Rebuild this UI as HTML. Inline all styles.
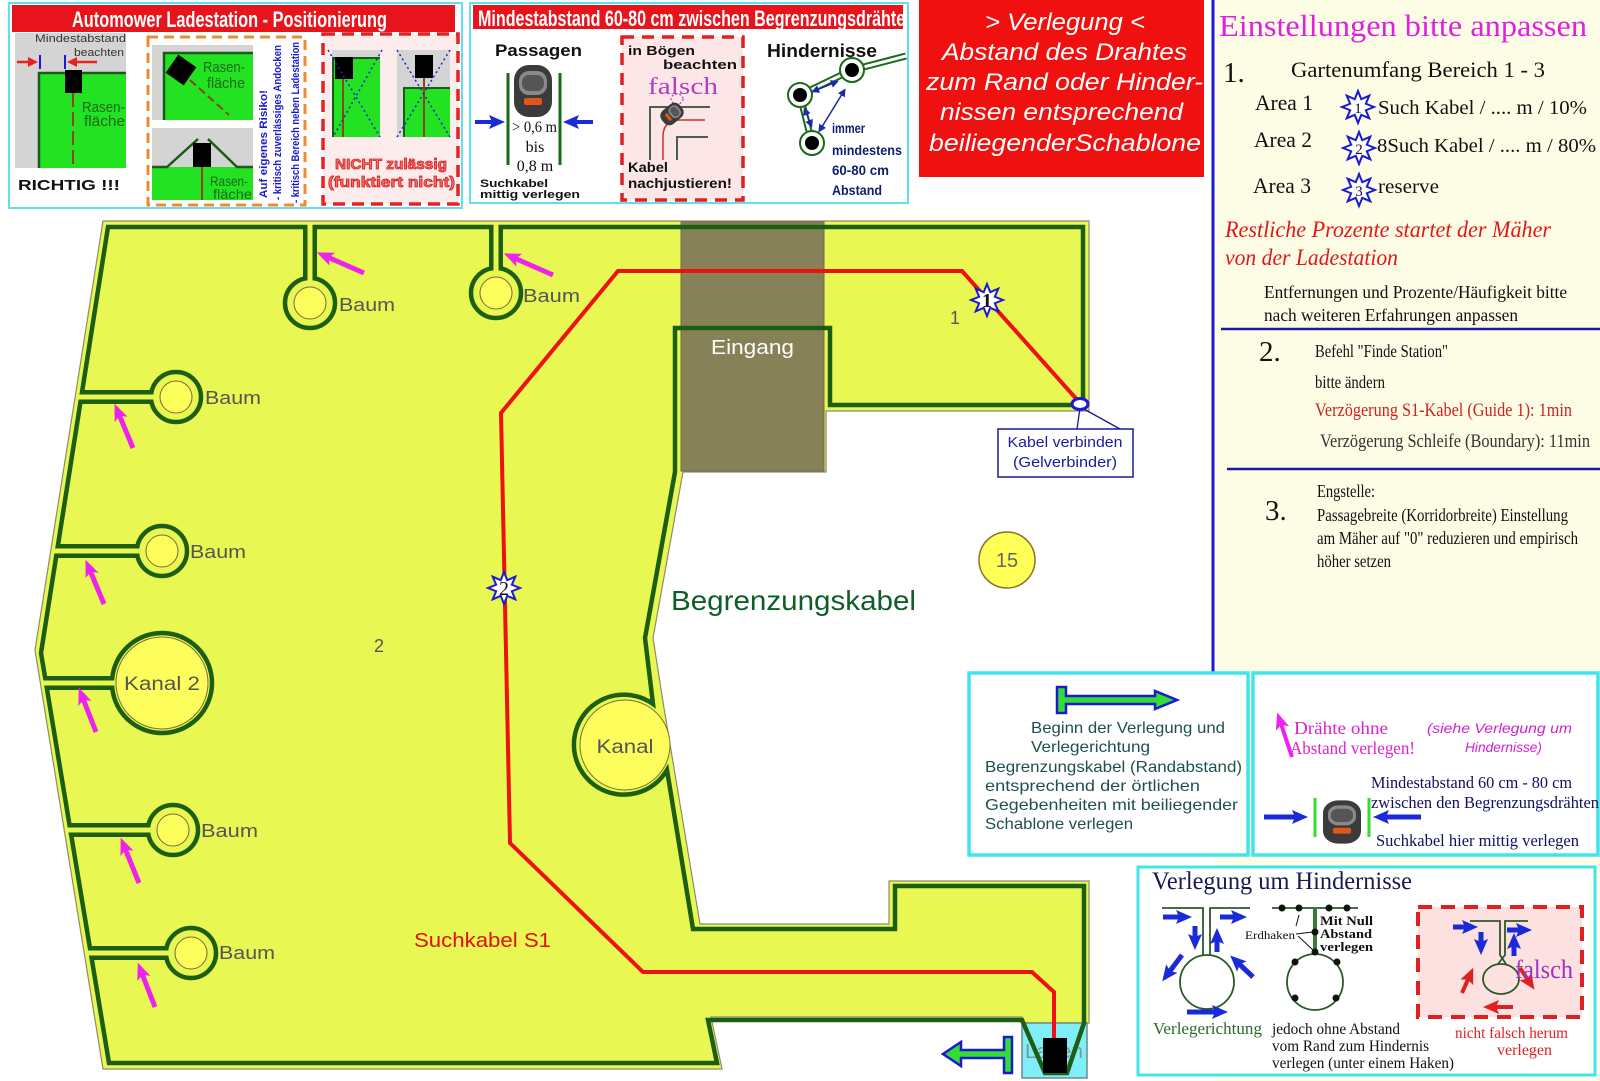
<!DOCTYPE html>
<html><head><meta charset="utf-8">
<style>
html,body{margin:0;padding:0;background:#fff;}
svg{display:block;}
text{font-family:"Liberation Sans","DejaVu Sans",sans-serif;}
.sf{font-family:"Liberation Serif","DejaVu Serif",serif;}
</style></head><body>
<svg width="1600" height="1081" viewBox="0 0 1600 1081" xmlns="http://www.w3.org/2000/svg">
<defs>
 <marker id="mM" markerUnits="userSpaceOnUse" markerWidth="18" markerHeight="16" refX="8" refY="8" orient="auto"><path d="M0,1 L17,8 L0,15 L4,8 Z" fill="#ee22ee"/></marker>
 <marker id="mB" markerUnits="userSpaceOnUse" markerWidth="16" markerHeight="16" refX="8" refY="8" orient="auto"><path d="M0,1 L16,8 L0,15 L3,8 Z" fill="#1a2ad8"/></marker>
 <marker id="mR" markerUnits="userSpaceOnUse" markerWidth="16" markerHeight="16" refX="8" refY="8" orient="auto"><path d="M0,1 L16,8 L0,15 L3,8 Z" fill="#e02020"/></marker>
 <marker id="mS" markerUnits="userSpaceOnUse" markerWidth="8" markerHeight="8" refX="5" refY="4" orient="auto-start-reverse"><path d="M0,0 L8,4 L0,8 Z" fill="#1a2aa0"/></marker>
 <marker id="mr" markerUnits="userSpaceOnUse" markerWidth="10" markerHeight="10" refX="3" refY="5" orient="auto"><path d="M0,0 L10,5 L0,10 Z" fill="#e82020"/></marker>
 <clipPath id="h2"><rect x="473" y="5" width="430" height="24"/></clipPath>
 <g id="star"><polygon points="0,-16 3.25,-7.85 11.3,-11.3 7.85,-3.25 16,0 7.85,3.25 11.3,11.3 3.25,7.85 0,16 -3.25,7.85 -11.3,11.3 -7.85,3.25 -16,0 -7.85,-3.25 -11.3,-11.3 -3.25,-7.85" fill="#fff" stroke="#1a1ad0" stroke-width="2"/></g>
 <g id="mower">
  <rect x="-19" y="-26" width="38" height="52" rx="15" fill="#3b3b3b"/>
  <rect x="-14" y="-20" width="28" height="24" rx="10" fill="#8a8a8a"/>
  <rect x="-11" y="-16" width="22" height="16" rx="7" fill="#555"/>
  <rect x="-9" y="7" width="18" height="7" rx="2" fill="#e2561a"/>
 </g>
</defs>

<!-- right cream panel -->
<rect x="1215" y="0" width="385" height="1081" fill="#fdfde6"/>
<line x1="1213" y1="0" x2="1213" y2="673" stroke="#1a1ad4" stroke-width="3"/>
<line x1="1221" y1="329" x2="1600" y2="329" stroke="#1a1aa0" stroke-width="2.5"/>
<line x1="1227" y1="469" x2="1600" y2="469" stroke="#1a1aa0" stroke-width="2.5"/>

<!-- ===== Panel 1 ===== -->
<rect x="9" y="3" width="453" height="205" fill="#fff" stroke="#5fe0ea" stroke-width="2"/>
<rect x="12" y="5" width="443" height="27" fill="#e8141c"/>
<text x="72" y="27" font-size="22" font-weight="bold" fill="#fff" textLength="315" lengthAdjust="spacingAndGlyphs">Automower Ladestation - Positionierung</text>
<rect x="15" y="33" width="111" height="135" fill="#d4d4d4"/>
<rect x="38" y="72" width="88" height="96" fill="#22e222"/>
<path d="M39,168 V73 H126" fill="none" stroke="#1a5a1a" stroke-width="2.5"/>
<line x1="73" y1="93" x2="73" y2="168" stroke="#8b4513" stroke-width="2" stroke-dasharray="14 5"/>
<rect x="65" y="70" width="17" height="23" fill="#000"/>
<text x="35" y="42" font-size="11" fill="#333" textLength="91" lengthAdjust="spacingAndGlyphs">Mindestabstand</text>
<text x="74" y="56" font-size="11" fill="#333" textLength="50" lengthAdjust="spacingAndGlyphs">beachten</text>
<line x1="17" y1="62" x2="31" y2="62" stroke="#e82020" stroke-width="2.5" marker-end="url(#mr)"/>
<line x1="97" y1="62" x2="74" y2="62" stroke="#e82020" stroke-width="2.5" marker-end="url(#mr)"/>
<line x1="40" y1="55" x2="40" y2="69" stroke="#1a1ad0" stroke-width="2"/>
<line x1="65" y1="55" x2="65" y2="69" stroke="#1a1ad0" stroke-width="2"/>
<text x="82" y="112" font-size="15" fill="#1a6a1a" textLength="43" lengthAdjust="spacingAndGlyphs">Rasen-</text>
<text x="84" y="126" font-size="15" fill="#1a6a1a" textLength="41" lengthAdjust="spacingAndGlyphs">fläche</text>
<text x="18" y="190" font-size="15" font-weight="bold" fill="#111" textLength="102" lengthAdjust="spacingAndGlyphs">RICHTIG !!!</text>

<rect x="148" y="37" width="157" height="168" fill="#fff" stroke="#f08a30" stroke-width="3" stroke-dasharray="10 6"/>
<rect x="152" y="45" width="101" height="75" fill="#d4d4d4"/>
<rect x="163" y="52" width="90" height="68" fill="#22e222"/>
<path d="M164,120 V53 H253" fill="none" stroke="#1a5a1a" stroke-width="2.5"/>
<line x1="190" y1="80" x2="229" y2="115" stroke="#8b4513" stroke-width="2" stroke-dasharray="8 4"/>
<rect x="170" y="59" width="22" height="22" fill="#000" transform="rotate(35 181 70)"/>
<text x="203" y="72" font-size="15" fill="#1a6a1a" textLength="42" lengthAdjust="spacingAndGlyphs">Rasen-</text>
<text x="207" y="88" font-size="15" fill="#1a6a1a" textLength="38" lengthAdjust="spacingAndGlyphs">fläche</text>
<rect x="152" y="128" width="101" height="72" fill="#d4d4d4"/>
<rect x="152" y="167" width="101" height="33" fill="#22e222"/>
<path d="M152,167 H167 L198,139 M208,139 L237,167 H253" fill="none" stroke="#1a5a1a" stroke-width="2.5"/>
<line x1="202" y1="167" x2="202" y2="200" stroke="#8b4513" stroke-width="2"/>
<rect x="193" y="143" width="18" height="24" fill="#000"/>
<text x="210" y="186" font-size="14" fill="#1a6a1a" textLength="38" lengthAdjust="spacingAndGlyphs">Rasen-</text>
<text x="213" y="199" font-size="14" fill="#1a6a1a" textLength="39" lengthAdjust="spacingAndGlyphs">fläche</text>
<text transform="translate(267,198) rotate(-90)" font-size="11" font-weight="bold" fill="#1a1acc" textLength="108" lengthAdjust="spacingAndGlyphs">Auf eigenes Risiko!</text>
<text transform="translate(281,200) rotate(-90)" font-size="11" font-weight="bold" fill="#1a1acc" textLength="155" lengthAdjust="spacingAndGlyphs">- kritisch zuverlässiges Andocken</text>
<text transform="translate(299,203) rotate(-90)" font-size="11" font-weight="bold" fill="#1a1acc" textLength="161" lengthAdjust="spacingAndGlyphs">- kritisch Bereich neben Ladestation</text>

<rect x="323" y="34" width="135" height="170" fill="#fdecec" stroke="#e82020" stroke-width="3.5" stroke-dasharray="12 7"/>
<rect x="332" y="50" width="48" height="87" fill="#d4d4d4"/>
<rect x="332" y="57" width="48" height="80" fill="#22e222"/>
<path d="M333,137 V58 H380" fill="none" stroke="#1a5a1a" stroke-width="2"/>
<line x1="343" y1="79" x2="343" y2="137" stroke="#8b4513" stroke-width="2"/>
<rect x="335" y="57" width="18" height="22" fill="#000"/>
<line x1="328" y1="50" x2="380" y2="137" stroke="#2222cc" stroke-width="1.5" stroke-dasharray="2 3"/>
<line x1="382" y1="50" x2="333" y2="137" stroke="#2222cc" stroke-width="1.5" stroke-dasharray="2 3"/>
<rect x="397" y="50" width="53" height="87" fill="#d4d4d4"/>
<rect x="403" y="87" width="47" height="50" fill="#22e222"/>
<path d="M404,137 V88 H450" fill="none" stroke="#1a5a1a" stroke-width="2"/>
<line x1="424" y1="78" x2="424" y2="137" stroke="#8b4513" stroke-width="2"/>
<rect x="415" y="55" width="18" height="23" fill="#000"/>
<line x1="397" y1="50" x2="450" y2="137" stroke="#2222cc" stroke-width="1.5" stroke-dasharray="2 3"/>
<line x1="450" y1="50" x2="397" y2="137" stroke="#2222cc" stroke-width="1.5" stroke-dasharray="2 3"/>
<text x="335" y="169" font-size="15" font-weight="bold" fill="#f07070" stroke="#d82020" stroke-width="0.8" textLength="112" lengthAdjust="spacingAndGlyphs">NICHT zulässig</text>
<text x="328" y="187" font-size="15" font-weight="bold" fill="#f07070" stroke="#d82020" stroke-width="0.8" textLength="127" lengthAdjust="spacingAndGlyphs">(funktiert nicht)</text>

<!-- ===== Panel 2 ===== -->
<rect x="470" y="3" width="438" height="200" fill="#fff" stroke="#5fe0ea" stroke-width="2"/>
<rect x="473" y="5" width="430" height="24" fill="#e8141c"/>
<g clip-path="url(#h2)"><text x="478" y="26" font-size="22" font-weight="bold" fill="#fff" textLength="437" lengthAdjust="spacingAndGlyphs">Mindestabstand 60-80 cm zwischen Begrenzungsdrähten</text></g>
<text x="495" y="56" font-size="17" font-weight="bold" fill="#111" textLength="87" lengthAdjust="spacingAndGlyphs">Passagen</text>
<line x1="508" y1="73" x2="508" y2="165" stroke="#1a6a1a" stroke-width="3"/>
<line x1="560" y1="73" x2="560" y2="165" stroke="#1a6a1a" stroke-width="3"/>
<use href="#mower" transform="translate(533,91)"/>
<line x1="475" y1="122" x2="497" y2="122" stroke="#1a2ad8" stroke-width="4" marker-end="url(#mB)"/>
<line x1="593" y1="122" x2="571" y2="122" stroke="#1a2ad8" stroke-width="4" marker-end="url(#mB)"/>
<text class="sf" x="512" y="132" font-size="16" fill="#111" textLength="45" lengthAdjust="spacingAndGlyphs">&gt; 0,6 m</text>
<text class="sf" x="535" y="152" font-size="16" fill="#111" text-anchor="middle">bis</text>
<text class="sf" x="535" y="171" font-size="16" fill="#111" text-anchor="middle">0,8 m</text>
<text x="480" y="187" font-size="11" font-weight="bold" fill="#111" textLength="68" lengthAdjust="spacingAndGlyphs">Suchkabel</text>
<text x="480" y="198" font-size="11" font-weight="bold" fill="#111" textLength="100" lengthAdjust="spacingAndGlyphs">mittig verlegen</text>

<rect x="622" y="37" width="121" height="163" fill="#fde6e6" stroke="#e02020" stroke-width="3.5" stroke-dasharray="12 8"/>
<text x="628" y="55" font-size="13" font-weight="bold" fill="#111" textLength="67" lengthAdjust="spacingAndGlyphs">in Bögen</text>
<text x="663" y="69" font-size="13" font-weight="bold" fill="#111" textLength="74" lengthAdjust="spacingAndGlyphs">beachten</text>
<text class="sf" x="648" y="94" font-size="24" fill="#b040c0" textLength="70" lengthAdjust="spacingAndGlyphs">falsch</text>
<ellipse cx="677" cy="99" rx="6" ry="5" fill="none" stroke="#a040c0" stroke-width="1.2" stroke-dasharray="2 2"/>
<path d="M710,107 H650 V160" fill="none" stroke="#4f5f4f" stroke-width="2"/>
<path d="M705,120 H680 Q663,120 663,137 V160" fill="none" stroke="#d03030" stroke-width="1.5"/>
<path d="M708,137 H677 V160" fill="none" stroke="#4f5f4f" stroke-width="2"/>
<use href="#mower" transform="translate(672,114) rotate(50) scale(0.45)"/>
<text x="628" y="172" font-size="14" font-weight="bold" fill="#111" textLength="40" lengthAdjust="spacingAndGlyphs">Kabel</text>
<text x="628" y="188" font-size="14" font-weight="bold" fill="#111" textLength="104" lengthAdjust="spacingAndGlyphs">nachjustieren!</text>

<text x="767" y="57" font-size="18" font-weight="bold" fill="#111" textLength="110" lengthAdjust="spacingAndGlyphs">Hindernisse</text>
<g stroke-linecap="butt">
 <line x1="852" y1="70" x2="906" y2="56" stroke="#1a6a1a" stroke-width="7"/>
 <line x1="800" y1="95" x2="852" y2="70" stroke="#1a6a1a" stroke-width="7"/>
 <line x1="800" y1="95" x2="812" y2="143" stroke="#1a6a1a" stroke-width="7"/>
 <line x1="852" y1="70" x2="906" y2="56" stroke="#fff" stroke-width="3"/>
 <line x1="800" y1="95" x2="852" y2="70" stroke="#fff" stroke-width="3"/>
 <line x1="800" y1="95" x2="812" y2="143" stroke="#fff" stroke-width="3"/>
</g>
<circle cx="800" cy="95" r="12" fill="#fff" stroke="#1a6a1a" stroke-width="2"/><circle cx="800" cy="95" r="7" fill="#000"/>
<circle cx="852" cy="70" r="12" fill="#fff" stroke="#1a6a1a" stroke-width="2"/><circle cx="852" cy="70" r="7" fill="#000"/>
<circle cx="812" cy="143" r="12" fill="#fff" stroke="#1a6a1a" stroke-width="2"/><circle cx="812" cy="143" r="7" fill="#000"/>
<line x1="814" y1="91" x2="836" y2="82" stroke="#1a2aa0" stroke-width="1.5" marker-start="url(#mS)" marker-end="url(#mS)"/>
<line x1="805" y1="110" x2="811" y2="125" stroke="#1a2aa0" stroke-width="1.5" marker-start="url(#mS)" marker-end="url(#mS)"/>
<line x1="820" y1="130" x2="844" y2="91" stroke="#1a2aa0" stroke-width="1.5" marker-start="url(#mS)" marker-end="url(#mS)"/>
<text x="832" y="133" font-size="14" font-weight="bold" fill="#102070" textLength="33" lengthAdjust="spacingAndGlyphs">immer</text>
<text x="832" y="155" font-size="14" font-weight="bold" fill="#102070" textLength="70" lengthAdjust="spacingAndGlyphs">mindestens</text>
<text x="832" y="175" font-size="14" font-weight="bold" fill="#102070" textLength="57" lengthAdjust="spacingAndGlyphs">60-80 cm</text>
<text x="832" y="195" font-size="14" font-weight="bold" fill="#102070" textLength="50" lengthAdjust="spacingAndGlyphs">Abstand</text>

<!-- ===== Red Verlegung box ===== -->
<rect x="919" y="0" width="285" height="177" fill="#f01010"/>
<g font-style="italic" font-size="24" fill="#fff">
 <text x="985" y="30" textLength="160" lengthAdjust="spacingAndGlyphs">&gt; Verlegung &lt;</text>
 <text x="942" y="60" textLength="245" lengthAdjust="spacingAndGlyphs">Abstand des Drahtes</text>
 <text x="926" y="90" textLength="277" lengthAdjust="spacingAndGlyphs">zum Rand oder Hinder-</text>
 <text x="940" y="120" textLength="243" lengthAdjust="spacingAndGlyphs">nissen entsprechend</text>
 <text x="929" y="151" textLength="272" lengthAdjust="spacingAndGlyphs">beiliegenderSchablone</text>
</g>

<!-- ===== Right panel text ===== -->
<g class="sf">
<text class="sf" x="1219" y="36" font-size="31" fill="#e020e0" textLength="368" lengthAdjust="spacingAndGlyphs">Einstellungen bitte anpassen</text>
<text class="sf" x="1223" y="82" font-size="29" fill="#111">1.</text>
<text class="sf" x="1291" y="77" font-size="22" fill="#111" textLength="254" lengthAdjust="spacingAndGlyphs">Gartenumfang Bereich 1 - 3</text>
<text class="sf" x="1255" y="110" font-size="22" fill="#111" textLength="58" lengthAdjust="spacingAndGlyphs">Area 1</text>
<text class="sf" x="1378" y="114" font-size="20" fill="#111" textLength="209" lengthAdjust="spacingAndGlyphs">Such Kabel / .... m / 10%</text>
<text class="sf" x="1254" y="147" font-size="22" fill="#111" textLength="58" lengthAdjust="spacingAndGlyphs">Area 2</text>
<text class="sf" x="1377" y="152" font-size="20" fill="#111" textLength="219" lengthAdjust="spacingAndGlyphs">8Such Kabel / .... m / 80%</text>
<text class="sf" x="1253" y="193" font-size="22" fill="#111" textLength="58" lengthAdjust="spacingAndGlyphs">Area 3</text>
<text class="sf" x="1378" y="193" font-size="20" fill="#111" textLength="61" lengthAdjust="spacingAndGlyphs">reserve</text>
<text class="sf" x="1225" y="237" font-size="23" font-style="italic" fill="#e01818" textLength="326" lengthAdjust="spacingAndGlyphs">Restliche Prozente  startet der Mäher</text>
<text class="sf" x="1225" y="265" font-size="23" font-style="italic" fill="#e01818" textLength="173" lengthAdjust="spacingAndGlyphs">von der Ladestation</text>
<text class="sf" x="1264" y="298" font-size="18" fill="#111" textLength="303" lengthAdjust="spacingAndGlyphs">Entfernungen und Prozente/Häufigkeit bitte</text>
<text class="sf" x="1264" y="321" font-size="18" fill="#111" textLength="254" lengthAdjust="spacingAndGlyphs">nach weiteren Erfahrungen anpassen</text>
<text class="sf" x="1259" y="361" font-size="29" fill="#111">2.</text>
<text class="sf" x="1315" y="357" font-size="18" fill="#111" textLength="133" lengthAdjust="spacingAndGlyphs">Befehl "Finde Station"</text>
<text class="sf" x="1315" y="388" font-size="18" fill="#111" textLength="70" lengthAdjust="spacingAndGlyphs">bitte ändern</text>
<text class="sf" x="1315" y="416" font-size="19" fill="#d02020" textLength="257" lengthAdjust="spacingAndGlyphs">Verzögerung S1-Kabel (Guide 1): 1min</text>
<text class="sf" x="1320" y="447" font-size="19" fill="#333" textLength="270" lengthAdjust="spacingAndGlyphs">Verzögerung Schleife (Boundary): 11min</text>
<text class="sf" x="1317" y="497" font-size="18" fill="#111" textLength="58" lengthAdjust="spacingAndGlyphs">Engstelle:</text>
<text class="sf" x="1265" y="520" font-size="29" fill="#111">3.</text>
<text class="sf" x="1317" y="521" font-size="18" fill="#111" textLength="251" lengthAdjust="spacingAndGlyphs">Passagebreite (Korridorbreite) Einstellung</text>
<text class="sf" x="1317" y="544" font-size="18" fill="#111" textLength="261" lengthAdjust="spacingAndGlyphs">am Mäher auf "0" reduzieren und empirisch</text>
<text class="sf" x="1317" y="567" font-size="18" fill="#111" textLength="74" lengthAdjust="spacingAndGlyphs">höher setzen</text>
</g>
<use href="#star" transform="translate(1358,107)"/>
<text class="sf" x="1358" y="113" font-size="15" fill="#111" text-anchor="middle">1</text>
<use href="#star" transform="translate(1359,148)"/>
<text class="sf" x="1359" y="154" font-size="15" fill="#111" text-anchor="middle">2</text>
<use href="#star" transform="translate(1359,190)"/>
<text class="sf" x="1359" y="196" font-size="15" fill="#111" text-anchor="middle">3</text>

<!-- ===== Yard ===== -->
<polygon points="103,221 1089,221 1089,411 826,411 826,472 683,472 653,638 663,702 700,924 889,924 889,881 1089,881 1089,1023 1022,1023 1022,1017 711,1017 722,1069 103,1069 35,650" fill="#e9f752" stroke="#8c8c6c" stroke-width="1.2"/>
<rect x="681" y="222" width="143" height="249" fill="#878157" stroke="#6d6a50" stroke-width="1"/>
<rect x="1022" y="1023" width="65" height="55" fill="#80eef6" stroke="#6a8a8a" stroke-width="1.5"/>
<text x="1025" y="1058" font-size="20" fill="#7a9aa0" textLength="58" lengthAdjust="spacingAndGlyphs">Laden</text>

<!-- boundary wire -->
<path d="M1084,1023 L1084,886 L895,886 L895,929 L693,929 L667,770 A50 50 0 1 1 653,704 L645,638 L675,472 L675,328 L830,328 L830,405 L1083,405 L1083,227 L108,227 L41,653 L109,1063 L717,1063 L708,1020 L1022,1020 L1045,1073 L1067,1073 L1084,1023 Z" fill="none" stroke="#1b5e14" stroke-width="4.5" stroke-linejoin="miter"/>

<!-- trees -->
<g stroke-linecap="butt">
 <!-- T1 -->
 <line x1="310" y1="227" x2="310" y2="290" stroke="#1b5e14" stroke-width="14"/>
 <circle cx="310" cy="303" r="25" fill="#e9f752" stroke="#1b5e14" stroke-width="4.5"/>
 <line x1="310" y1="223" x2="310" y2="282" stroke="#e9f752" stroke-width="5"/>
 <circle cx="310" cy="303" r="16" fill="#fdfd5c" stroke="#7a6a3a" stroke-width="1"/>
 <!-- T2 -->
 <line x1="496" y1="227" x2="496" y2="280" stroke="#1b5e14" stroke-width="14"/>
 <circle cx="496" cy="293" r="25" fill="#e9f752" stroke="#1b5e14" stroke-width="4.5"/>
 <line x1="496" y1="223" x2="496" y2="272" stroke="#e9f752" stroke-width="5"/>
 <circle cx="496" cy="293" r="16" fill="#fdfd5c" stroke="#7a6a3a" stroke-width="1"/>
 <!-- T3 -->
 <line x1="81" y1="397" x2="165" y2="397" stroke="#1b5e14" stroke-width="14"/>
 <circle cx="176" cy="397" r="25" fill="#e9f752" stroke="#1b5e14" stroke-width="4.5"/>
 <line x1="76" y1="397" x2="155" y2="397" stroke="#e9f752" stroke-width="5"/>
 <circle cx="176" cy="397" r="16" fill="#fdfd5c" stroke="#7a6a3a" stroke-width="1"/>
 <!-- T4 -->
 <line x1="57" y1="551" x2="150" y2="551" stroke="#1b5e14" stroke-width="14"/>
 <circle cx="162" cy="551" r="25" fill="#e9f752" stroke="#1b5e14" stroke-width="4.5"/>
 <line x1="52" y1="551" x2="141" y2="551" stroke="#e9f752" stroke-width="5"/>
 <circle cx="162" cy="551" r="16" fill="#fdfd5c" stroke="#7a6a3a" stroke-width="1"/>
 <!-- Kanal 2 -->
 <line x1="46" y1="683" x2="125" y2="683" stroke="#1b5e14" stroke-width="14"/>
 <circle cx="162" cy="683" r="50" fill="#e9f752" stroke="#1b5e14" stroke-width="4.5"/>
 <line x1="41" y1="683" x2="117" y2="683" stroke="#e9f752" stroke-width="5"/>
 <circle cx="162" cy="683" r="46" fill="#fdfd5c" stroke="#7a6a3a" stroke-width="1"/>
 <!-- T5 -->
 <line x1="70" y1="830" x2="160" y2="830" stroke="#1b5e14" stroke-width="14"/>
 <circle cx="173" cy="830" r="25" fill="#e9f752" stroke="#1b5e14" stroke-width="4.5"/>
 <line x1="65" y1="830" x2="152" y2="830" stroke="#e9f752" stroke-width="5"/>
 <circle cx="173" cy="830" r="16" fill="#fdfd5c" stroke="#7a6a3a" stroke-width="1"/>
 <!-- T6 -->
 <line x1="90" y1="953" x2="178" y2="953" stroke="#1b5e14" stroke-width="14"/>
 <circle cx="191" cy="953" r="25" fill="#e9f752" stroke="#1b5e14" stroke-width="4.5"/>
 <line x1="85" y1="953" x2="170" y2="953" stroke="#e9f752" stroke-width="5"/>
 <circle cx="191" cy="953" r="16" fill="#fdfd5c" stroke="#7a6a3a" stroke-width="1"/>
</g>
<!-- Kanal -->
<circle cx="625" cy="745" r="45" fill="#fdfd5c" stroke="#7a6a3a" stroke-width="1"/>

<!-- labels -->
<g fill="#555" font-size="18">
 <text x="339" y="311" textLength="56" lengthAdjust="spacingAndGlyphs">Baum</text>
 <text x="523" y="302" textLength="57" lengthAdjust="spacingAndGlyphs">Baum</text>
 <text x="205" y="404" textLength="56" lengthAdjust="spacingAndGlyphs">Baum</text>
 <text x="190" y="558" textLength="56" lengthAdjust="spacingAndGlyphs">Baum</text>
 <text x="201" y="837" textLength="57" lengthAdjust="spacingAndGlyphs">Baum</text>
 <text x="219" y="959" textLength="56" lengthAdjust="spacingAndGlyphs">Baum</text>
 <text x="162" y="690" text-anchor="middle" font-size="19" textLength="76" lengthAdjust="spacingAndGlyphs">Kanal 2</text>
 <text x="625" y="753" text-anchor="middle" font-size="19" textLength="57" lengthAdjust="spacingAndGlyphs">Kanal</text>
 <text x="379" y="652" text-anchor="middle">2</text>
 <text x="955" y="324" text-anchor="middle">1</text>
</g>
<text x="711" y="354" font-size="20" fill="#fff" textLength="83" lengthAdjust="spacingAndGlyphs">Eingang</text>
<text x="671" y="610" font-size="28" fill="#0e5e28" textLength="245" lengthAdjust="spacingAndGlyphs">Begrenzungskabel</text>
<text x="414" y="947" font-size="20" fill="#e01010" textLength="137" lengthAdjust="spacingAndGlyphs">Suchkabel S1</text>
<circle cx="1007" cy="560" r="28" fill="#ffff55" stroke="#8a7030" stroke-width="1.5"/>
<text x="1007" y="567" font-size="20" fill="#666" text-anchor="middle">15</text>

<!-- magenta arrows -->
<g stroke="#ee22ee" stroke-width="5" marker-end="url(#mM)">
 <line x1="364" y1="273" x2="325" y2="256"/>
 <line x1="553" y1="275" x2="512" y2="257"/>
 <line x1="133" y1="448" x2="118" y2="412"/>
 <line x1="104" y1="604" x2="89" y2="568"/>
 <line x1="96" y1="732" x2="82" y2="696"/>
 <line x1="139" y1="883" x2="124" y2="846"/>
 <line x1="155" y1="1007" x2="141" y2="971"/>
</g>

<!-- red search cable -->
<polyline points="1054,1038 1054,992 1032,972 643,972 510,843 501,413 618,271 962,271 1080,403" fill="none" stroke="#ee1111" stroke-width="4" stroke-linejoin="miter"/>
<rect x="1043" y="1038" width="24" height="35" fill="#000"/>
<use href="#star" transform="translate(987,300)"/>
<text class="sf" x="987" y="307" font-size="20" font-weight="bold" fill="#111" text-anchor="middle">1</text>
<use href="#star" transform="translate(504,588)"/>
<text class="sf" x="504" y="595" font-size="20" fill="#111" text-anchor="middle">2</text>

<!-- cable connector -->
<line x1="1080" y1="408" x2="1077" y2="429" stroke="#1a1a9a" stroke-width="1.3"/>
<line x1="1082" y1="408" x2="1120" y2="429" stroke="#1a1a9a" stroke-width="1.3"/>
<ellipse cx="1080" cy="404" rx="8" ry="5.5" fill="#fff" stroke="#1a1ad4" stroke-width="3"/>
<rect x="998" y="429" width="135" height="48" fill="#fff" stroke="#1a1a9a" stroke-width="1.5"/>
<text x="1065" y="447" font-size="15" fill="#1a1aa0" text-anchor="middle" textLength="115" lengthAdjust="spacingAndGlyphs">Kabel verbinden</text>
<text x="1065" y="467" font-size="15" fill="#1a1aa0" text-anchor="middle" textLength="104" lengthAdjust="spacingAndGlyphs">(Gelverbinder)</text>

<!-- start arrow near station -->
<polygon points="1012,1037 1012,1073 1004,1073 1004,1058 961,1058 961,1066 943,1054 961,1042 961,1050 1004,1050 1004,1037" fill="#33dd33" stroke="#1a1ad0" stroke-width="2.5" stroke-linejoin="miter"/>

<!-- ===== Box 1 ===== -->
<rect x="969" y="673" width="279" height="182" fill="#fff" stroke="#40e4ee" stroke-width="3.5"/>
<polygon points="1057,687 1066,687 1066,696 1155,696 1155,691 1177,700 1155,709 1155,704 1066,704 1066,713 1057,713" fill="#33dd33" stroke="#1a1ad0" stroke-width="2.5"/>
<g font-size="16" fill="#1e5050">
 <text x="1031" y="733" textLength="194" lengthAdjust="spacingAndGlyphs">Beginn der Verlegung und</text>
 <text x="1031" y="752" textLength="119" lengthAdjust="spacingAndGlyphs">Verlegerichtung</text>
 <text x="985" y="772" textLength="257" lengthAdjust="spacingAndGlyphs">Begrenzungskabel (Randabstand)</text>
 <text x="985" y="791" textLength="215" lengthAdjust="spacingAndGlyphs">entsprechend der örtlichen</text>
 <text x="985" y="810" textLength="253" lengthAdjust="spacingAndGlyphs">Gegebenheiten mit beiliegender</text>
 <text x="985" y="829" textLength="148" lengthAdjust="spacingAndGlyphs">Schablone verlegen</text>
</g>

<!-- ===== Box 2 ===== -->
<rect x="1253" y="673" width="345" height="182" fill="#fff" stroke="#40e4ee" stroke-width="3.5"/>
<line x1="1292" y1="757" x2="1280" y2="721" stroke="#ee22ee" stroke-width="4" marker-end="url(#mM)"/>
<text class="sf" x="1294" y="734" font-size="18" fill="#e020d0" textLength="94" lengthAdjust="spacingAndGlyphs">Drähte ohne</text>
<text class="sf" x="1290" y="754" font-size="18" fill="#e020d0" textLength="125" lengthAdjust="spacingAndGlyphs">Abstand verlegen!</text>
<text x="1427" y="733" font-size="14" font-style="italic" fill="#d020d0" textLength="145" lengthAdjust="spacingAndGlyphs">(siehe Verlegung um</text>
<text x="1465" y="752" font-size="14" font-style="italic" fill="#d020d0" textLength="77" lengthAdjust="spacingAndGlyphs">Hindernisse)</text>
<text class="sf" x="1371" y="788" font-size="17" fill="#101060" textLength="201" lengthAdjust="spacingAndGlyphs">Mindestabstand 60 cm - 80 cm</text>
<text class="sf" x="1371" y="808" font-size="17" fill="#101060" textLength="228" lengthAdjust="spacingAndGlyphs">zwischen den Begrenzungsdrähten</text>
<text class="sf" x="1376" y="846" font-size="17" fill="#101060" textLength="203" lengthAdjust="spacingAndGlyphs">Suchkabel hier mittig verlegen</text>
<line x1="1264" y1="817" x2="1300" y2="817" stroke="#1a2ad8" stroke-width="5" marker-end="url(#mB)"/>
<line x1="1421" y1="817" x2="1381" y2="817" stroke="#1a2ad8" stroke-width="5" marker-end="url(#mB)"/>
<line x1="1315" y1="798" x2="1315" y2="837" stroke="#30dd30" stroke-width="3"/>
<line x1="1369" y1="798" x2="1369" y2="837" stroke="#30dd30" stroke-width="3"/>
<use href="#mower" transform="translate(1342,822) scale(1,0.83)"/>

<!-- ===== Box 3 ===== -->
<rect x="1138" y="867" width="457" height="208" fill="#fff" stroke="#40e4ee" stroke-width="3"/>
<text class="sf" x="1152" y="889" font-size="25" fill="#1a1a50" textLength="260" lengthAdjust="spacingAndGlyphs">Verlegung um Hindernisse</text>
<g fill="none" stroke="#2a5a2a" stroke-width="1.8">
 <path d="M1162,908 H1203 V956"/>
 <path d="M1250,908 H1210 V956"/>
 <circle cx="1207" cy="982" r="27"/>
</g>
<g stroke="#1a2ad8" stroke-width="5" marker-end="url(#mB)">
 <line x1="1163" y1="917" x2="1184" y2="917"/>
 <line x1="1195" y1="926" x2="1195" y2="942"/>
 <line x1="1217" y1="952" x2="1217" y2="936"/>
 <line x1="1220" y1="917" x2="1239" y2="917"/>
 <line x1="1182" y1="955" x2="1167" y2="975"/>
 <line x1="1253" y1="977" x2="1236" y2="961"/>
 <line x1="1187" y1="1012" x2="1220" y2="1012"/>
</g>
<text class="sf" x="1153" y="1034" font-size="17" fill="#2a6a2a" textLength="109" lengthAdjust="spacingAndGlyphs">Verlegerichtung</text>
<line x1="1272" y1="908" x2="1358" y2="908" stroke="#2a5a2a" stroke-width="1.8"/>
<line x1="1315" y1="908" x2="1315" y2="952" stroke="#3a7a3a" stroke-width="4"/>
<circle cx="1315" cy="982" r="28" fill="none" stroke="#2a5a2a" stroke-width="1.8"/>
<g fill="#111">
 <circle cx="1282" cy="908" r="3.5"/><circle cx="1299" cy="908" r="3.5"/><circle cx="1329" cy="908" r="3.5"/><circle cx="1347" cy="908" r="3.5"/>
 <circle cx="1315" cy="932" r="3.5"/><circle cx="1315" cy="952" r="3.5"/>
 <circle cx="1295" cy="962" r="3.5"/><circle cx="1337" cy="962" r="3.5"/><circle cx="1295" cy="998" r="3.5"/><circle cx="1336" cy="998" r="3.5"/>
</g>
<g stroke="#111" stroke-width="1">
 <line x1="1296" y1="934" x2="1313" y2="932"/>
 <line x1="1298" y1="936" x2="1313" y2="950"/>
 <line x1="1299" y1="915" x2="1296" y2="926"/>
</g>
<text class="sf" x="1245" y="939" font-size="12" fill="#111" textLength="50" lengthAdjust="spacingAndGlyphs">Erdhaken</text>
<text class="sf" x="1320" y="925" font-size="13" font-weight="bold" fill="#111" textLength="53" lengthAdjust="spacingAndGlyphs">Mit Null</text>
<text class="sf" x="1320" y="938" font-size="13" font-weight="bold" fill="#111" textLength="52" lengthAdjust="spacingAndGlyphs">Abstand</text>
<text class="sf" x="1320" y="951" font-size="13" font-weight="bold" fill="#111" textLength="53" lengthAdjust="spacingAndGlyphs">verlegen</text>
<text class="sf" x="1272" y="1034" font-size="16" fill="#111" textLength="128" lengthAdjust="spacingAndGlyphs">jedoch ohne Abstand</text>
<text class="sf" x="1272" y="1051" font-size="16" fill="#111" textLength="157" lengthAdjust="spacingAndGlyphs">vom Rand zum Hindernis</text>
<text class="sf" x="1272" y="1068" font-size="16" fill="#111" textLength="182" lengthAdjust="spacingAndGlyphs">verlegen (unter einem Haken)</text>

<rect x="1418" y="907" width="164" height="110" fill="#fde0e0" stroke="#e02020" stroke-width="4" stroke-dasharray="14 9"/>
<g fill="none" stroke="#2a5a2a" stroke-width="1.8">
 <path d="M1470,921 H1500 V955 L1506,964"/>
 <path d="M1528,921 H1505 V955 L1498,964"/>
 <ellipse cx="1501" cy="979" rx="18" ry="15"/>
</g>
<g stroke="#1a2ad8" stroke-width="5" marker-end="url(#mB)">
 <line x1="1453" y1="927" x2="1470" y2="927"/>
 <line x1="1481" y1="932" x2="1481" y2="947"/>
 <line x1="1514" y1="956" x2="1514" y2="941"/>
 <line x1="1507" y1="930" x2="1524" y2="930"/>
</g>
<g stroke="#e02020" stroke-width="4" marker-end="url(#mR)">
 <line x1="1462" y1="993" x2="1470" y2="975"/>
 <line x1="1520" y1="968" x2="1530" y2="983"/>
 <line x1="1513" y1="1007" x2="1491" y2="1007"/>
</g>
<text class="sf" x="1515" y="978" font-size="26" fill="#a030c0" textLength="58" lengthAdjust="spacingAndGlyphs">falsch</text>
<text class="sf" x="1455" y="1038" font-size="16" fill="#e02020" textLength="113" lengthAdjust="spacingAndGlyphs">nicht falsch herum</text>
<text class="sf" x="1497" y="1055" font-size="16" fill="#e02020" textLength="55" lengthAdjust="spacingAndGlyphs">verlegen</text>
</svg>
</body></html>
